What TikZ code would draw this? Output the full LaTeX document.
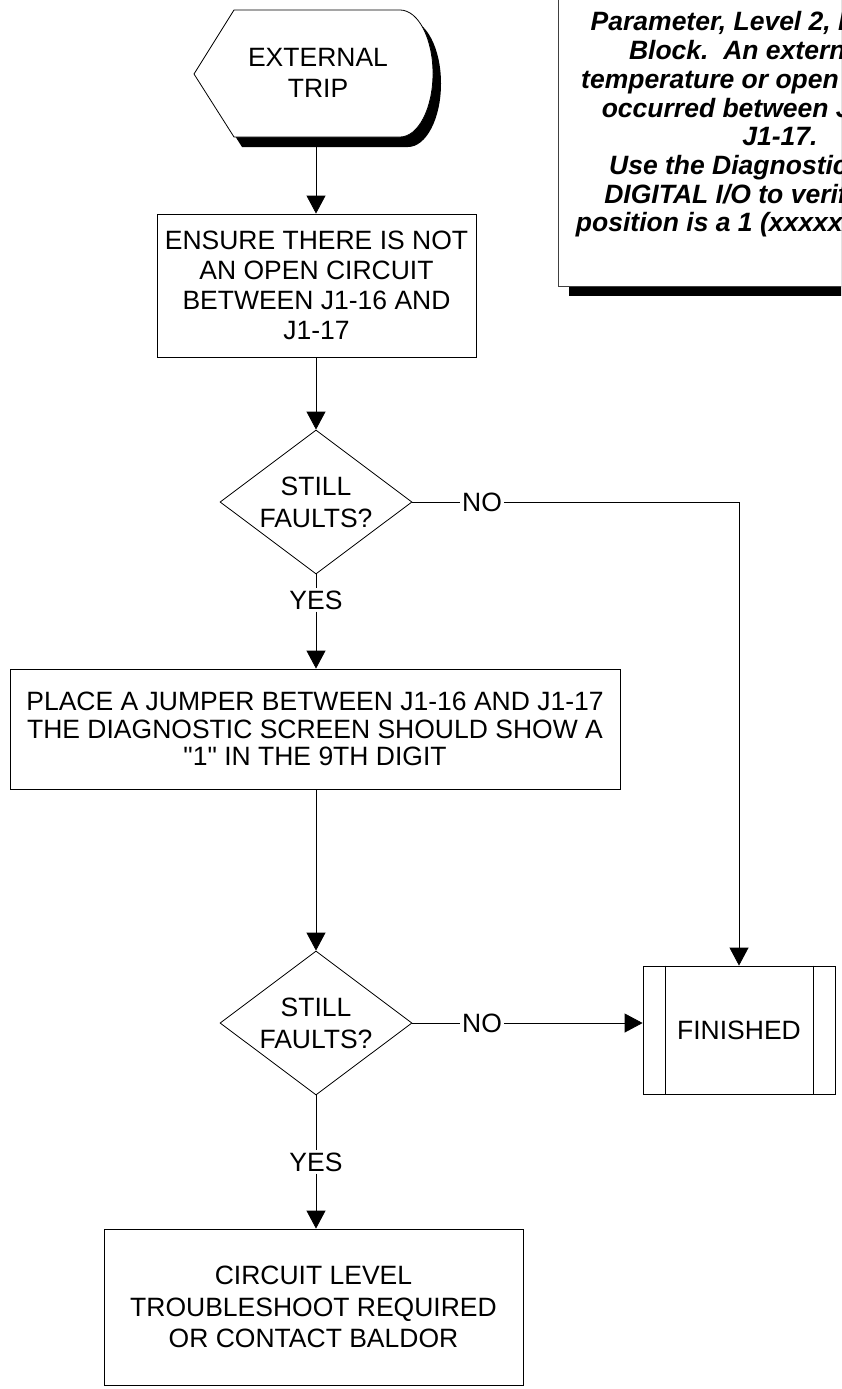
\documentclass[tikz,border=0pt]{standalone}
\usepackage{fontspec}
\setmainfont{Liberation Sans}
\newfontfamily\rawsans{Liberation Sans}
\usetikzlibrary{shapes.geometric,arrows.meta}
\tikzset{
  line/.style={draw=black, line width=0.8pt},
  arr/.style={line, -{Triangle[length=18pt,width=19pt]}},
  txt/.style={font=\fontsize{26.5}{30}\selectfont, align=center, inner sep=0pt},
  procbox/.style={txt, draw=black, line width=0.8pt, fill=white, rectangle},
  dia/.style={diamond, draw=black, line width=0.8pt, inner sep=0pt, minimum width=192pt, minimum height=144pt},
  lbl/.style={txt, inner sep=2pt},
  notetxt/.style={font=\fontsize{26.5}{28.7}\selectfont\bfseries\itshape, align=center, inner sep=0pt}
}
\begin{document}
\begin{tikzpicture}[x=1pt,y=-1pt]
\useasboundingbox (0,0) rectangle (841,1389);
\clip (0,0) rectangle (841,1389);
% note box with shadow
\fill[black] (569,-10) rectangle (1015,296);
\node[draw=black!75, fill=white, line width=0.8pt, minimum width=446pt, minimum height=306pt, inner sep=0pt] (note) at (781,133) {};
\node[notetxt] (notetext) at (780,124.5) {Parameter, Level 2, Protection\\Block.\ \ An external over\\temperature or open circuit has\\occurred between J1-16 and\\J1-17.\\Use the Diagnostic Screen,\\DIGITAL I/O to verify the 9th\\position is a 1 (xxxxxxxx1xxxxx)};
% display shape
\fill[black] (202,84) -- (242,20) -- (408,20) .. controls (426.2,20) and (441,48.4) .. (441,83.5) .. controls (441,118.6) and (426.2,147) .. (408,147) -- (242,147) -- cycle;
\filldraw[fill=white, line] (194,74) -- (234,10) -- (400,10) .. controls (418.2,10) and (433,38.4) .. (433,73.5) .. controls (433,108.6) and (418.2,137) .. (400,137) -- (234,137) -- cycle;
\node[txt, font=\fontsize{26.5}{31}\selectfont] (ext) at (318,72.5) {EXTERNAL\\TRIP};
\coordinate (extb) at (316,147);
% boxes
\node[procbox, minimum width=319pt, minimum height=143pt] (b1) at (316.5,285.5) {ENSURE THERE IS NOT\\AN OPEN CIRCUIT\\BETWEEN J1-16 AND\\J1-17};
\node[dia] (d1) at (316,502) {};
\node[txt, font=\fontsize{26.5}{32}\selectfont] (d1t) at (d1) {STILL\\FAULTS?};
\node[lbl] (yes1) at (316,600) {YES};
\node[lbl] (no1) at (482,502) {NO};
\node[procbox, minimum width=610pt, minimum height=120pt, font=\fontsize{26.5}{27.5}\selectfont] (b2) at (315,729) {PLACE A JUMPER BETWEEN J1-16 AND J1-17\\THE DIAGNOSTIC SCREEN SHOULD SHOW A\\{\rawsans"1"} IN THE 9TH DIGIT};
\node[dia] (d2) at (316,1023) {};
\node[txt, font=\fontsize{26.5}{32}\selectfont] (d2t) at (d2) {STILL\\FAULTS?};
\node[lbl] (no2) at (482,1023) {NO};
\node[lbl] (yes2) at (316,1162) {YES};
\node[procbox, minimum width=419pt, minimum height=156pt, font=\fontsize{26.5}{31.5}\selectfont] (b3) at (313.5,1307) {CIRCUIT LEVEL\\TROUBLESHOOT REQUIRED\\OR CONTACT BALDOR};
\node[procbox, minimum width=192pt, minimum height=128pt] (fin) at (739,1030) {FINISHED};
\draw[line] ([xshift=23pt]fin.north west) -- ([xshift=23pt]fin.south west);
\draw[line] ([xshift=-22pt]fin.north east) -- ([xshift=-22pt]fin.south east);
% connectors
\draw[arr] (extb) -- (extb |- b1.north);
\draw[arr] (b1.south -| d1) -- (d1.north);
\draw[line] (d1.south) -- (yes1);
\draw[arr] (yes1) -- (d1 |- b2.north);
\draw[line] (d1.east) -- (no1);
\draw[arr] (no1) -| (fin.north);
\draw[arr] (b2.south -| d2) -- (d2.north);
\draw[line] (d2.east) -- (no2);
\draw[arr] (no2) -- (no2 -| fin.west);
\draw[line] (d2.south) -- (yes2);
\draw[arr] (yes2) -- (d2 |- b3.north);
\end{tikzpicture}
\end{document}
